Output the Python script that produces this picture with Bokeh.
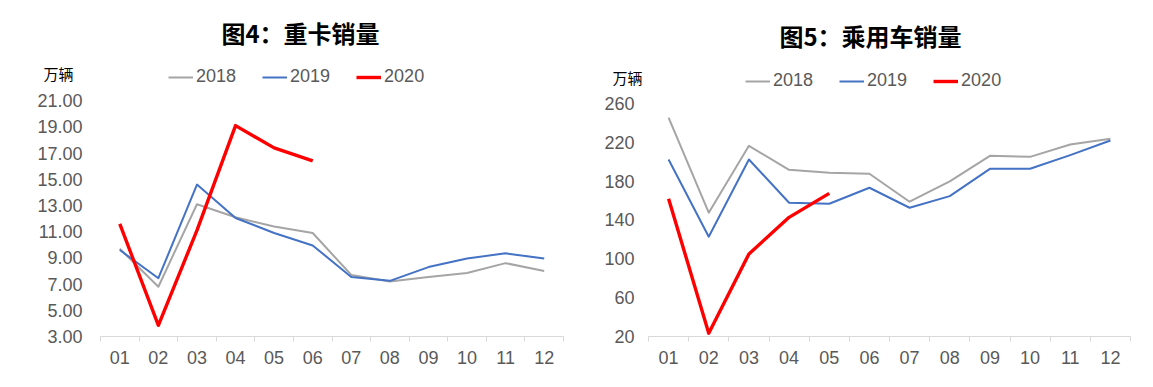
from bokeh.plotting import figure
from bokeh.layouts import row
from bokeh.models import FixedTicker, Legend, LegendItem, Label, Range1d
from bokeh.embed import file_html
from bokeh.resources import INLINE

months = ["01", "02", "03", "04", "05", "06", "07", "08", "09", "10", "11", "12"]
years = ["2018", "2019", "2020"]

# 图4：重卡销量 (万辆)
truck_2018 = [9.7, 6.8, 13.1, 12.1, 11.4, 10.9, 7.7, 7.2, 7.55, 7.85, 8.6, 8.0]
truck_2019 = [9.6, 7.45, 14.6, 12.05, 10.9, 9.95, 7.55, 7.25, 8.3, 8.95, 9.35, 8.95]
truck_2020 = [11.6, 3.85, 11.1, 19.1, 17.4, 16.4]
truck_ticks = [3, 5, 7, 9, 11, 13, 15, 17, 19, 21]

# 图5：乘用车销量 (万辆)
car_2018 = [245.5, 147.5, 216.4, 191.7, 188.6, 187.6, 158.8, 179.7, 206.1, 205.0, 217.7, 223.6]
car_2019 = [202.3, 122.8, 202.3, 157.8, 156.7, 173.2, 152.6, 164.6, 192.7, 192.7, 206.8, 221.9]
car_2020 = [161.9, 23.4, 105.0, 142.7, 167.4]
car_ticks = [20, 60, 100, 140, 180, 220, 260]

colors = ["#a5a5a5", "#4472c4", "#ff0000"]
widths = [2, 2, 3.4]
FONT = "Liberation Sans"
CJK = "Noto Sans CJK SC"
GREY_TXT = "#595959"


def make_chart(title, series, yticks, ylabel_fmt, width, height, frame_left, axis_left,
               b_right, b_bottom, y_min, px_per_unit, label_right, title_pos, unit_pos,
               legend_pos):
    b_top = 13
    frame_h = height - b_top - b_bottom
    y_max = y_min + frame_h / px_per_unit
    n = len(months)
    frame_right = width - b_right
    ppx = (frame_right - axis_left) / n
    x_start = 0.5 - (axis_left - frame_left) / ppx
    p = figure(width=width, height=height, output_backend="svg", toolbar_location=None,
               x_range=Range1d(x_start, n + 0.5), y_range=Range1d(y_min, y_max),
               min_border_left=frame_left, min_border_right=b_right,
               min_border_top=b_top, min_border_bottom=b_bottom)
    p.outline_line_color = None
    p.xgrid.visible = False
    p.ygrid.visible = False
    p.background_fill_color = "white"
    p.border_fill_color = "white"

    xs = list(range(1, n + 1))
    items = []
    for vals, yr, c, w in zip(series, years, colors, widths):
        r = p.line(xs[:len(vals)], vals, line_color=c, line_width=w, line_join="round")
        items.append(LegendItem(label=yr, renderers=[r]))

    # x axis
    xa = p.xaxis[0]
    xa.bounds = (0.5, n + 0.5)
    xa.ticker = FixedTicker(ticks=xs, minor_ticks=[x - 0.5 for x in xs] + [n + 0.5])
    xa.major_label_overrides = {x: m for x, m in zip(xs, months)}
    xa.axis_line_color = "#d9d9d9"
    xa.axis_line_width = 1.2
    xa.major_tick_line_color = None
    xa.major_tick_out = 0
    xa.major_tick_in = 0
    xa.minor_tick_line_color = "#d9d9d9"
    xa.minor_tick_out = 5
    xa.minor_tick_in = 0
    xa.major_label_standoff = 9
    xa.major_label_text_font = FONT
    xa.major_label_text_font_size = "18px"
    xa.major_label_text_color = GREY_TXT

    # y axis (labels pulled right so they sit just left of the category axis)
    ya = p.yaxis[0]
    ya.ticker = FixedTicker(ticks=yticks)
    ya.major_label_overrides = {t: ylabel_fmt.format(t) for t in yticks}
    ya.axis_line_color = None
    ya.major_tick_line_color = None
    ya.minor_tick_line_color = None
    ya.major_tick_out = 0
    ya.major_tick_in = 0
    ya.major_label_standoff = -(label_right - frame_left)
    ya.major_label_text_font = FONT
    ya.major_label_text_font_size = "18px"
    ya.major_label_text_color = GREY_TXT

    p.add_layout(Label(x=title_pos[0] - frame_left, y=title_pos[1], x_units="screen",
                       y_units="screen", text=title, text_align="center",
                       text_baseline="middle", text_font=CJK, text_font_style="bold",
                       text_font_size="24px", text_color="#000000"))
    p.add_layout(Label(x=unit_pos[0] - frame_left, y=unit_pos[1], x_units="screen",
                       y_units="screen", text="万辆", text_align="center",
                       text_baseline="middle", text_font=CJK, text_font_size="15px",
                       text_color="#000000"))

    leg = Legend(items=items, orientation="horizontal",
                 location=(legend_pos[0] - frame_left, legend_pos[1]),
                 border_line_color=None, background_fill_alpha=0,
                 padding=0, margin=0, spacing=26, glyph_width=25, glyph_height=20,
                 label_standoff=3, label_text_font=FONT, label_text_font_size="18px",
                 label_text_color=GREY_TXT, label_height=20)
    p.add_layout(leg, "center")
    return p


p1 = make_chart("图4：重卡销量", [truck_2018, truck_2019, truck_2020], truck_ticks, "{:.2f}",
                width=583, height=380, frame_left=30, axis_left=100, b_right=20, b_bottom=41,
                y_min=3, px_per_unit=13.22, label_right=82,
                title_pos=(300, 304), unit_pos=(58, 263), legend_pos=(168, 249))
p2 = make_chart("图5：乘用车销量", [car_2018, car_2019, car_2020], car_ticks, "{:d}",
                width=562, height=380, frame_left=20, axis_left=65, b_right=15, b_bottom=44,
                y_min=20, px_per_unit=0.971, label_right=51,
                title_pos=(287, 301), unit_pos=(44, 259), legend_pos=(162, 245))

layout = row(p1, p2)
open("out.html", "w").write(file_html(layout, INLINE))
